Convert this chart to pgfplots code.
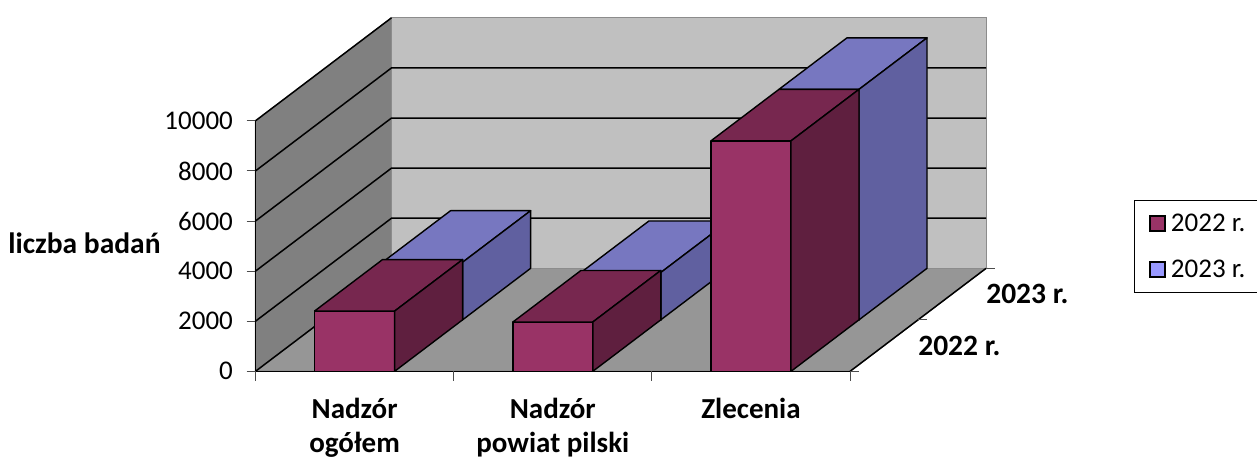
\documentclass[border=0pt]{standalone}
\usepackage{fontspec}
\setmainfont{Carlito}
\usepackage{pgfplots}
\pgfplotsset{compat=1.18}
\definecolor{wallL}{HTML}{808080}
\definecolor{wallB}{HTML}{C0C0C0}
\definecolor{floorC}{HTML}{969696}
\definecolor{aF}{HTML}{993366}
\definecolor{aT}{HTML}{77274F}
\definecolor{aS}{HTML}{5F1F3F}
\definecolor{bT}{HTML}{7777C0}
\definecolor{bS}{HTML}{6060A0}
\definecolor{bL}{HTML}{9999FF}
% x0 x1 y0 y1 value front top side
\newcommand{\bartd}[8]{%
  \addplot3[fill=#6,draw=black,line width=1.6pt,line join=round,forget plot] coordinates {(#1,#3,0)(#2,#3,0)(#2,#3,#5)(#1,#3,#5)(#1,#3,0)};
  \addplot3[fill=#7,draw=black,line width=1.4pt,line join=round,forget plot] coordinates {(#1,#3,#5)(#2,#3,#5)(#2,#4,#5)(#1,#4,#5)(#1,#3,#5)};
  \addplot3[fill=#8,draw=black,line width=1.4pt,line join=round,forget plot] coordinates {(#2,#3,0)(#2,#4,0)(#2,#4,#5)(#2,#3,#5)(#2,#3,0)};
}
\newcommand{\tk}[1]{\addplot3[draw=black!70,line width=1pt,forget plot] coordinates {#1};}
\begin{document}
\begin{tikzpicture}
\path[use as bounding box] (-255.5pt,-87.7pt) rectangle (1001.5pt,371.3pt);
\begin{axis}[
  anchor=origin, at={(0pt,0pt)},
  x={(198.2pt,0pt)}, y={(136pt,103pt)}, z={(0pt,0.02506pt)},
  xmin=0,xmax=3,ymin=0,ymax=1,zmin=0,zmax=10000,
  clip=false,
  hide axis,
  font=\fontsize{27}{32}\selectfont,
  legend style={at={(1.2021,0.484)},anchor=north west,draw=black,line width=1pt,
    legend cell align=left,inner xsep=15pt,inner ysep=13pt,row sep=27.5pt,
    font=\fontsize{27}{32}\selectfont,
    nodes={inner xsep=5pt,inner ysep=0pt}},
  legend image code/.code={\draw[#1,line width=1.7pt] (0pt,-7.5pt) rectangle (15pt,7.5pt);},
]
% walls and floor
\addplot3[fill=floorC,draw=black!60,line width=1pt,forget plot] coordinates {(0,0,0)(3,0,0)(3,1,0)(0,1,0)(0,0,0)};
\addplot3[fill=wallL,draw=wallL,line width=1pt,forget plot] coordinates {(0,0,0)(0,1,0)(0,1,10000)(0,0,10000)(0,0,0)};
\addplot3[fill=wallB,draw=black!45,line width=1.2pt,forget plot] coordinates {(0,1,0)(3,1,0)(3,1,10000)(0,1,10000)(0,1,0)};
% grid
\addplot3[black,line width=1.5pt,forget plot] coordinates {(0,0,2000)(0,1,2000)(3,1,2000)};
\addplot3[black,line width=1.5pt,forget plot] coordinates {(0,0,4000)(0,1,4000)(3,1,4000)};
\addplot3[black,line width=1.5pt,forget plot] coordinates {(0,0,6000)(0,1,6000)(3,1,6000)};
\addplot3[black,line width=1.5pt,forget plot] coordinates {(0,0,8000)(0,1,8000)(3,1,8000)};
\addplot3[black,line width=1.5pt,forget plot] coordinates {(0,0,10000)(0,1,10000)};
\addplot3[black,line width=1.5pt,forget plot] coordinates {(0,0,0)(0,1,0)};
\addplot3[black,line width=1.5pt,forget plot] coordinates {(3,0,0)(3,1,0)};
% axis lines
\addplot3[black,line width=1.5pt,forget plot] coordinates {(0,0,0)(0,0,10000)};
% bars 2023
\bartd{0.298}{0.702}{0.5}{1}{2300}{bL}{bT}{bS}
\bartd{1.299}{1.702}{0.5}{1}{1890}{bL}{bT}{bS}
\bartd{2.298}{2.702}{0.5}{1}{9200}{bL}{bT}{bS}
% bars 2022
\bartd{0.298}{0.702}{0}{0.5}{2405}{aF}{aT}{aS}
\bartd{1.299}{1.702}{0}{0.5}{1970}{aF}{aT}{aS}
\bartd{2.298}{2.702}{0}{0.5}{9200}{aF}{aT}{aS}
\addplot3[black,line width=1.5pt,forget plot] coordinates {(0,0,0)(3,0,0)};
% ticks
\tk{(-0.045,0,0)(0,0,0)}
\tk{(-0.045,0,2000)(0,0,2000)}
\tk{(-0.045,0,4000)(0,0,4000)}
\tk{(-0.045,0,6000)(0,0,6000)}
\tk{(-0.045,0,8000)(0,0,8000)}
\tk{(-0.045,0,10000)(0,0,10000)}
\tk{(0,0,0)(0,0,-380)}
\tk{(1,0,0)(1,0,-380)}
\tk{(2,0,0)(2,0,-380)}
\tk{(3,0,0)(3,0,-380)}
\tk{(3,0,0)(3.045,0,0)}
\tk{(3,0.5,0)(3.045,0.5,0)}
\tk{(3,1,0)(3.045,1,0)}
% tick labels
\node[anchor=east,inner sep=0pt] at (axis cs:-0.113,0,0) {0};
\node[anchor=east,inner sep=0pt] at (axis cs:-0.113,0,2000) {2000};
\node[anchor=east,inner sep=0pt] at (axis cs:-0.113,0,4000) {4000};
\node[anchor=east,inner sep=0pt] at (axis cs:-0.113,0,6000) {6000};
\node[anchor=east,inner sep=0pt] at (axis cs:-0.113,0,8000) {8000};
\node[anchor=east,inner sep=0pt] at (axis cs:-0.113,0,10000) {10000};
\node[font=\fontsize{29}{34}\selectfont\bfseries,align=center,anchor=north] at (axis cs:0.5,0,-950) {Nadzór\\ogółem};
\node[font=\fontsize{29}{34}\selectfont\bfseries,align=center,anchor=north] at (axis cs:1.5,0,-950) {Nadzór\\powiat pilski};
\node[font=\fontsize{29}{34}\selectfont\bfseries,align=center,anchor=north] at (axis cs:2.5,0,-950) {Zlecenia};
\node[font=\fontsize{29.5}{34}\selectfont\bfseries] at (axis cs:3.38,0.25,0) {2022 r.};
\node[font=\fontsize{29.5}{34}\selectfont\bfseries] at (axis cs:3.38,0.75,0) {2023 r.};
\node[font=\fontsize{29.5}{34}\selectfont\bfseries] at (axis cs:-0.863,0,5120) {liczba badań};
\addlegendimage{fill=aF,draw=black}
\addlegendentry{2022 r.\hspace{30pt}}
\addlegendimage{fill=bL,draw=black}
\addlegendentry{2023 r.\hspace{30pt}}
\end{axis}
\end{tikzpicture}
\end{document}
